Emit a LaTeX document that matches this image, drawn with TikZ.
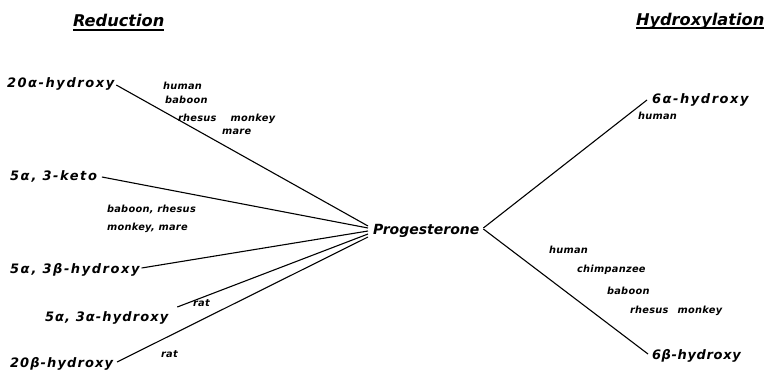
\documentclass[tikz,border=0pt]{standalone}
\usepackage{fontspec}
\setmainfont{DejaVu Sans}
\newfontfamily\bigf[LetterSpace=12]{DejaVu Sans}
\newfontfamily\midf[LetterSpace=8.5]{DejaVu Sans}
\newfontfamily\narf[LetterSpace=5]{DejaVu Sans}
\newfontfamily\smallf[LetterSpace=3]{DejaVu Sans}
\tikzset{
  every node/.style={inner sep=0pt, outer sep=0pt, anchor=base west},
  head/.style={font=\fontsize{16.2}{16}\selectfont\bfseries\itshape},
  cmpd/.style={font=\bigf\fontsize{13}{13}\selectfont\bfseries\itshape},
  cmpdm/.style={font=\midf\fontsize{13}{13}\selectfont\bfseries\itshape},
  cmpdn/.style={font=\narf\fontsize{13}{13}\selectfont\bfseries\itshape},
  prog/.style={font=\fontsize{14}{14}\selectfont\bfseries\itshape},
  spc/.style={font=\smallf\fontsize{9.8}{9.8}\selectfont\bfseries\itshape},
  conn/.style={line width=1.1pt, black},
  uline/.style={line width=1.6pt, black}
}
\begin{document}
\begin{tikzpicture}[x=1pt,y=-1pt]
\useasboundingbox (0,0) rectangle (766,375);
% headings
\node[head] (red) at (73,26) {Reduction};
\node[head] (hyd) at (636,25) {Hydroxylation};
\draw[uline] ([yshift=-4pt]red.base west) -- ([yshift=-4pt]red.base east);
\draw[uline] ([yshift=-3pt]hyd.base west) -- ([yshift=-3pt]hyd.base east);
% center
\node[prog] (pg) at (373,234) {Progesterone};
% left compounds
\node[cmpd] (a20) at (7,87) {20α-hydroxy};
\node[cmpd] (k53) at (10,180) {5α\kern2pt, 3-keto};
\node[cmpd] (b53) at (10,273) {5α\kern2pt, 3β-hydroxy};
\node[cmpdm] (a53) at (45,321) {5α, 3α-hydroxy};
\node[cmpdm] (b20) at (10,367) {20β-hydroxy};
% right compounds
\node[cmpd] (a6) at (652,103) {6α-hydroxy};
\node[cmpdn] (b6) at (652,359) {6β-hydroxy};
% species labels
\node[spc] (s1) at (163,89) {human};
\node[spc] (s2) at (165,103) {baboon};
\node[spc] (s3) at (178,121) {rhesus\hspace{14pt}monkey};
\node[spc] (s4) at (222,134) {mare};
\node[spc] (s5) at (107,212) {baboon, rhesus};
\node[spc] (s6) at (107,230) {monkey, mare};
\node[spc] (s7) at (193,306) {rat};
\node[spc] (s8) at (161,357) {rat};
\node[spc] (s9) at (638,119) {human};
\node[spc] (s10) at (549,253) {human};
\node[spc] (s11) at (577,272) {chimpanzee};
\node[spc] (s12) at (607,294) {baboon};
\node[spc] (s13) at (630,313) {rhesus\hspace{9pt}monkey};
% connectors
\draw[conn] ([xshift=2pt,yshift=2pt]a20.base east) -- ([xshift=-5pt,yshift=8pt]pg.base west);
\draw[conn] ([xshift=5pt,yshift=3pt]k53.base east) -- ([xshift=-5pt,yshift=6pt]pg.base west);
\draw[conn] ([xshift=2pt,yshift=5pt]b53.base east) -- ([xshift=-5pt,yshift=3pt]pg.base west);
\draw[conn] ([xshift=9pt,yshift=14pt]a53.base east) -- ([xshift=-5pt,yshift=0pt]pg.base west);
\draw[conn] ([xshift=4pt,yshift=5pt]b20.base east) -- ([xshift=-5pt,yshift=-3pt]pg.base west);
\draw[conn] ([xshift=4pt,yshift=6pt]pg.base east) -- ([xshift=-5pt,yshift=3pt]a6.base west);
\draw[conn] ([xshift=4pt,yshift=5pt]pg.base east) -- ([xshift=-4pt,yshift=5pt]b6.base west);
\end{tikzpicture}
\end{document}
